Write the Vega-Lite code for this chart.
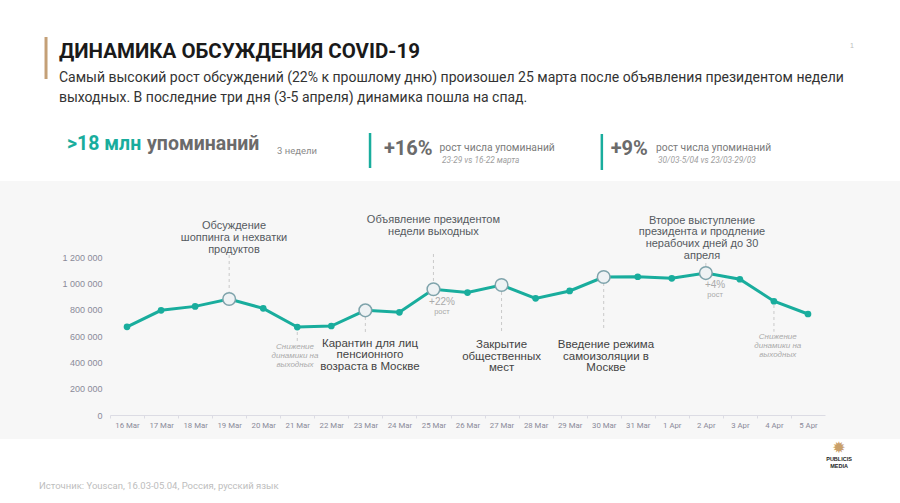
{
  "$schema": "https://vega.github.io/schema/vega-lite/v6.json",
  "width": 900,
  "height": 503,
  "autosize": {"type": "none"},
  "padding": 0,
  "background": "white",
  "config": {"view": {"stroke": null}},
  "data": {
    "values": [
      {"date": "2020-03-16", "mentions": 670000},
      {"date": "2020-03-17", "mentions": 795000},
      {"date": "2020-03-18", "mentions": 825000},
      {"date": "2020-03-19", "mentions": 881000},
      {"date": "2020-03-20", "mentions": 810000},
      {"date": "2020-03-21", "mentions": 668000},
      {"date": "2020-03-22", "mentions": 676000},
      {"date": "2020-03-23", "mentions": 795000},
      {"date": "2020-03-24", "mentions": 780000},
      {"date": "2020-03-25", "mentions": 955000},
      {"date": "2020-03-26", "mentions": 930000},
      {"date": "2020-03-27", "mentions": 987000},
      {"date": "2020-03-28", "mentions": 886000},
      {"date": "2020-03-29", "mentions": 942000},
      {"date": "2020-03-30", "mentions": 1048000},
      {"date": "2020-03-31", "mentions": 1050000},
      {"date": "2020-04-01", "mentions": 1038000},
      {"date": "2020-04-02", "mentions": 1078000},
      {"date": "2020-04-03", "mentions": 1031000},
      {"date": "2020-04-04", "mentions": 864000},
      {"date": "2020-04-05", "mentions": 767000}
    ]
  },
  "layer": [
    {
      "data": {"values": [{}]},
      "mark": {"type": "rect", "color": "#f7f7f7"},
      "encoding": {
        "y": {"datum": 1777216, "type": "quantitative"},
        "y2": {"datum": -182279}
      }
    },
    {
      "mark": {"type": "line", "color": "#19ad9d", "strokeWidth": 3},
      "encoding": {
        "x": {
          "field": "date", "type": "temporal",
          "scale": {"type": "utc", "domain": [{"year": 2020, "month": 3, "date": 15, "hours": 12, "utc": true}, {"year": 2020, "month": 4, "date": 5, "hours": 12, "utc": true}], "range": [110, 825]},
          "axis": {"title": null, "orient": "bottom", "offset": -88, "zindex": 1, "tickCount": {"interval": "day", "step": 1}, "labelExpr": "utcFormat(datum.value, '%-d %b')", "labelFont": "Roboto", "labelFontSize": 7.8, "labelColor": "#8a8a99", "domainColor": "#dcdce4", "tickColor": "#dcdce4", "tickSize": 3, "tickOffset": -17, "labelOffset": 17, "labelPadding": 3, "labelFlush": false, "labelOverlap": false, "grid": false}
        },
        "y": {
          "field": "mentions", "type": "quantitative",
          "scale": {"domain": [0, 1200000], "range": [415, 257], "nice": false, "zero": true},
          "axis": {"title": null, "orient": "left", "offset": -110, "zindex": 1, "values": [0, 200000, 400000, 600000, 800000, 1000000, 1200000], "labelExpr": "replace(replace(format(datum.value, ','), ',', ' '), ',', ' ')", "domain": false, "ticks": false, "grid": false, "labelFont": "Liberation Sans", "labelFontSize": 9, "labelColor": "#8a8a99", "labelPadding": 8}
        }
      }
    },
    {"data": {"values": [{}]}, "mark": {"type": "rule", "strokeDash": [3, 3], "color": "#c9c9c9"}, "encoding": {"x": {"datum": {"year": 2020, "month": 3, "date": 19, "utc": true}, "type": "temporal"}, "y": {"datum": 1215190, "type": "quantitative"}, "y2": {"datum": 937975}}},
    {"data": {"values": [{}]}, "mark": {"type": "rule", "strokeDash": [3, 3], "color": "#c9c9c9"}, "encoding": {"x": {"datum": {"year": 2020, "month": 3, "date": 25, "utc": true}, "type": "temporal"}, "y": {"datum": 1222785, "type": "quantitative"}, "y2": {"datum": 1002532}}},
    {"data": {"values": [{}]}, "mark": {"type": "rule", "strokeDash": [3, 3], "color": "#c9c9c9"}, "encoding": {"x": {"datum": {"year": 2020, "month": 4, "date": 2, "utc": true}, "type": "temporal"}, "y": {"datum": 1154431, "type": "quantitative"}, "y2": {"datum": 1116456}}},
    {"data": {"values": [{}]}, "mark": {"type": "rule", "strokeDash": [3, 3], "color": "#c9c9c9"}, "encoding": {"x": {"datum": {"year": 2020, "month": 3, "date": 23, "utc": true}, "type": "temporal"}, "y": {"datum": 744304, "type": "quantitative"}, "y2": {"datum": 630380}}},
    {"data": {"values": [{}]}, "mark": {"type": "rule", "strokeDash": [3, 3], "color": "#c9c9c9"}, "encoding": {"x": {"datum": {"year": 2020, "month": 3, "date": 21, "utc": true}, "type": "temporal"}, "y": {"datum": 630380, "type": "quantitative"}, "y2": {"datum": 554431}}},
    {"data": {"values": [{}]}, "mark": {"type": "rule", "strokeDash": [3, 3], "color": "#c9c9c9"}, "encoding": {"x": {"datum": {"year": 2020, "month": 3, "date": 27, "utc": true}, "type": "temporal"}, "y": {"datum": 934178, "type": "quantitative"}, "y2": {"datum": 622785}}},
    {"data": {"values": [{}]}, "mark": {"type": "rule", "strokeDash": [3, 3], "color": "#c9c9c9"}, "encoding": {"x": {"datum": {"year": 2020, "month": 3, "date": 30, "utc": true}, "type": "temporal"}, "y": {"datum": 1002532, "type": "quantitative"}, "y2": {"datum": 645570}}},
    {"data": {"values": [{}]}, "mark": {"type": "rule", "strokeDash": [3, 3], "color": "#c9c9c9"}, "encoding": {"x": {"datum": {"year": 2020, "month": 4, "date": 4, "utc": true}, "type": "temporal"}, "y": {"datum": 835443, "type": "quantitative"}, "y2": {"datum": 632658}}},
    {
      "mark": {"type": "circle", "color": "#19ad9d", "size": 45, "opacity": 1},
      "encoding": {
        "x": {"field": "date", "type": "temporal"},
        "y": {"field": "mentions", "type": "quantitative"}
      }
    },
    {
      "transform": [{"filter": "indexof(['2020-03-19','2020-03-23','2020-03-25','2020-03-27','2020-03-30','2020-04-02'], utcFormat(toDate(datum.date), '%Y-%m-%d')) >= 0"}],
      "mark": {"type": "circle", "size": 160, "fill": "#eef2f4", "stroke": "#7ea3ab", "strokeWidth": 1.5, "opacity": 1, "filled": true},
      "encoding": {
        "x": {"field": "date", "type": "temporal"},
        "y": {"field": "mentions", "type": "quantitative"}
      }
    },
    {"data": {"values": [{}]}, "mark": {"type": "rule", "color": "#c4a077", "strokeWidth": 3}, "encoding": {"x": {"datum": {"year": 2020, "month": 3, "date": 13, "hours": 14, "minutes": 54, "utc": true}, "type": "temporal"}, "y": {"datum": 2870887, "type": "quantitative"}, "y2": {"datum": 2551900}}},
    {"data": {"values": [{}]}, "mark": {"type": "text", "align": "left", "baseline": "middle", "font": "Roboto", "fontWeight": "bold", "fontSize": 20.5, "color": "#1a1a1a"}, "encoding": {"x": {"datum": {"year": 2020, "month": 3, "date": 14, "utc": true}, "type": "temporal"}, "y": {"datum": 2753166, "type": "quantitative"}, "text": {"value": "ДИНАМИКА ОБСУЖДЕНИЯ COVID-19"}}},
    {"data": {"values": [{}]}, "mark": {"type": "text", "align": "left", "baseline": "middle", "font": "Roboto", "fontSize": 14, "lineHeight": 20, "color": "#333333"}, "encoding": {"x": {"datum": {"year": 2020, "month": 3, "date": 14, "utc": true}, "type": "temporal"}, "y": {"datum": 2559495, "type": "quantitative"}, "text": {"value": ["Самый высокий рост обсуждений (22% к прошлому дню) произошел 25 марта после объявления президентом недели", "выходных. В последние три дня (3-5 апреля) динамика пошла на спад."]}}},
    {"data": {"values": [{}]}, "mark": {"type": "text", "align": "center", "baseline": "middle", "font": "Liberation Sans", "fontSize": 7, "color": "#bbbbbb"}, "encoding": {"x": {"datum": {"year": 2020, "month": 4, "date": 6, "hours": 7, "utc": true}, "type": "temporal"}, "y": {"datum": 2802533, "type": "quantitative"}, "text": {"value": "1"}}},
    {"data": {"values": [{}]}, "mark": {"type": "text", "align": "left", "baseline": "middle", "font": "Roboto", "fontWeight": "bold", "fontSize": 19.5, "color": "#19ad9d"}, "encoding": {"x": {"datum": {"year": 2020, "month": 3, "date": 14, "hours": 5, "minutes": 42, "utc": true}, "type": "temporal"}, "y": {"datum": 2058229, "type": "quantitative"}, "text": {"value": ">18 млн"}}},
    {"data": {"values": [{}]}, "mark": {"type": "text", "align": "left", "baseline": "middle", "font": "Roboto", "fontWeight": "bold", "fontSize": 19.5, "color": "#6b6b6b"}, "encoding": {"x": {"datum": {"year": 2020, "month": 3, "date": 16, "hours": 14, "minutes": 6, "utc": true}, "type": "temporal"}, "y": {"datum": 2058229, "type": "quantitative"}, "text": {"value": "упоминаний"}}},
    {"data": {"values": [{}]}, "mark": {"type": "text", "align": "left", "baseline": "middle", "font": "Roboto", "fontSize": 9.5, "color": "#8a8a8a"}, "encoding": {"x": {"datum": {"year": 2020, "month": 3, "date": 20, "hours": 9, "minutes": 42, "utc": true}, "type": "temporal"}, "y": {"datum": 2005064, "type": "quantitative"}, "text": {"value": "3 недели"}}},
    {"data": {"values": [{}]}, "mark": {"type": "rule", "color": "#19ad9d", "strokeWidth": 2.5}, "encoding": {"x": {"datum": {"year": 2020, "month": 3, "date": 23, "hours": 3, "minutes": 18, "utc": true}, "type": "temporal"}, "y": {"datum": 2141773, "type": "quantitative"}, "y2": {"datum": 1875950}}},
    {"data": {"values": [{}]}, "mark": {"type": "rule", "color": "#19ad9d", "strokeWidth": 2.5}, "encoding": {"x": {"datum": {"year": 2020, "month": 3, "date": 29, "hours": 22, "minutes": 42, "utc": true}, "type": "temporal"}, "y": {"datum": 2134178, "type": "quantitative"}, "y2": {"datum": 1860760}}},
    {"data": {"values": [{}]}, "mark": {"type": "text", "align": "left", "baseline": "middle", "font": "Roboto", "fontWeight": "bold", "fontSize": 20, "color": "#6b6b6b"}, "encoding": {"x": {"datum": {"year": 2020, "month": 3, "date": 23, "hours": 13, "minutes": 6, "utc": true}, "type": "temporal"}, "y": {"datum": 2020254, "type": "quantitative"}, "text": {"value": "+16%"}}},
    {"data": {"values": [{}]}, "mark": {"type": "text", "align": "left", "baseline": "middle", "font": "Roboto", "fontWeight": "bold", "fontSize": 20, "color": "#6b6b6b"}, "encoding": {"x": {"datum": {"year": 2020, "month": 3, "date": 30, "hours": 4, "minutes": 54, "utc": true}, "type": "temporal"}, "y": {"datum": 2020254, "type": "quantitative"}, "text": {"value": "+9%"}}},
    {"data": {"values": [{}]}, "mark": {"type": "text", "align": "left", "baseline": "middle", "font": "Roboto", "fontSize": 10.3, "color": "#7a7a7a"}, "encoding": {"x": {"datum": {"year": 2020, "month": 3, "date": 25, "hours": 4, "minutes": 18, "utc": true}, "type": "temporal"}, "y": {"datum": 2024052, "type": "quantitative"}, "text": {"value": "рост числа упоминаний"}}},
    {"data": {"values": [{}]}, "mark": {"type": "text", "align": "left", "baseline": "middle", "font": "Roboto", "fontSize": 10.3, "color": "#7a7a7a"}, "encoding": {"x": {"datum": {"year": 2020, "month": 3, "date": 31, "hours": 12, "minutes": 54, "utc": true}, "type": "temporal"}, "y": {"datum": 2024052, "type": "quantitative"}, "text": {"value": "рост числа упоминаний"}}},
    {"data": {"values": [{}]}, "mark": {"type": "text", "align": "left", "baseline": "middle", "font": "Roboto", "fontStyle": "italic", "fontSize": 8.3, "color": "#a0a0a0"}, "encoding": {"x": {"datum": {"year": 2020, "month": 3, "date": 25, "hours": 6, "utc": true}, "type": "temporal"}, "y": {"datum": 1929115, "type": "quantitative"}, "text": {"value": "23-29 vs 16-22 марта"}}},
    {"data": {"values": [{}]}, "mark": {"type": "text", "align": "left", "baseline": "middle", "font": "Roboto", "fontStyle": "italic", "fontSize": 8.3, "color": "#a0a0a0"}, "encoding": {"x": {"datum": {"year": 2020, "month": 3, "date": 31, "hours": 14, "minutes": 18, "utc": true}, "type": "temporal"}, "y": {"datum": 1929115, "type": "quantitative"}, "text": {"value": "30/03-5/04 vs 23/03-29/03"}}},
    {"data": {"values": [{}]}, "mark": {"type": "text", "align": "center", "baseline": "middle", "font": "Liberation Sans", "fontSize": 11, "lineHeight": 12, "color": "#555a60"}, "encoding": {"x": {"datum": {"year": 2020, "month": 3, "date": 19, "hours": 3, "minutes": 24, "utc": true}, "type": "temporal"}, "y": {"datum": 1435444, "type": "quantitative"}, "text": {"value": ["Обсуждение", "шоппинга и нехватки", "продуктов"]}}},
    {"data": {"values": [{}]}, "mark": {"type": "text", "align": "center", "baseline": "middle", "font": "Liberation Sans", "fontSize": 11, "lineHeight": 12, "color": "#555a60"}, "encoding": {"x": {"datum": {"year": 2020, "month": 3, "date": 25, "utc": true}, "type": "temporal"}, "y": {"datum": 1481013, "type": "quantitative"}, "text": {"value": ["Объявление президентом", "недели выходных"]}}},
    {"data": {"values": [{}]}, "mark": {"type": "text", "align": "center", "baseline": "middle", "font": "Liberation Sans", "fontSize": 11, "lineHeight": 11.8, "color": "#555a60"}, "encoding": {"x": {"datum": {"year": 2020, "month": 4, "date": 1, "hours": 21, "minutes": 18, "utc": true}, "type": "temporal"}, "y": {"datum": 1475697, "type": "quantitative"}, "text": {"value": ["Второе выступление", "президента и продление", "нерабочих дней до 30", "апреля"]}}},
    {"data": {"values": [{}]}, "mark": {"type": "text", "align": "center", "baseline": "middle", "font": "Liberation Sans", "fontSize": 11.5, "lineHeight": 11.5, "color": "#444444"}, "encoding": {"x": {"datum": {"year": 2020, "month": 3, "date": 23, "hours": 3, "minutes": 16, "utc": true}, "type": "temporal"}, "y": {"datum": 539241, "type": "quantitative"}, "text": {"value": ["Карантин для лиц", "пенсионного", "возраста в Москве"]}}},
    {"data": {"values": [{}]}, "mark": {"type": "text", "align": "center", "baseline": "middle", "font": "Liberation Sans", "fontSize": 11.5, "lineHeight": 11.7, "color": "#444444"}, "encoding": {"x": {"datum": {"year": 2020, "month": 3, "date": 27, "utc": true}, "type": "temporal"}, "y": {"datum": 531646, "type": "quantitative"}, "text": {"value": ["Закрытие", "общественных", "мест"]}}},
    {"data": {"values": [{}]}, "mark": {"type": "text", "align": "center", "baseline": "middle", "font": "Liberation Sans", "fontSize": 11.5, "lineHeight": 11.7, "color": "#444444"}, "encoding": {"x": {"datum": {"year": 2020, "month": 3, "date": 30, "hours": 1, "minutes": 36, "utc": true}, "type": "temporal"}, "y": {"datum": 531646, "type": "quantitative"}, "text": {"value": ["Введение режима", "самоизоляции в", "Москве"]}}},
    {"data": {"values": [{}]}, "mark": {"type": "text", "align": "center", "baseline": "middle", "font": "Liberation Sans", "fontStyle": "italic", "fontSize": 8, "lineHeight": 9, "color": "#aaaaaa"}, "encoding": {"x": {"datum": {"year": 2020, "month": 3, "date": 20, "hours": 22, "minutes": 24, "utc": true}, "type": "temporal"}, "y": {"datum": 516456, "type": "quantitative"}, "text": {"value": ["Снижение", "динамики на", "выходных"]}}},
    {"data": {"values": [{}]}, "mark": {"type": "text", "align": "center", "baseline": "middle", "font": "Liberation Sans", "fontStyle": "italic", "fontSize": 8, "lineHeight": 9, "color": "#aaaaaa"}, "encoding": {"x": {"datum": {"year": 2020, "month": 4, "date": 4, "hours": 2, "minutes": 42, "utc": true}, "type": "temporal"}, "y": {"datum": 594684, "type": "quantitative"}, "text": {"value": ["Снижение", "динамики на", "выходных"]}}},
    {"data": {"values": [{}]}, "mark": {"type": "text", "align": "center", "baseline": "middle", "font": "Liberation Sans", "fontSize": 10, "color": "#aaaaaa"}, "encoding": {"x": {"datum": {"year": 2020, "month": 3, "date": 25, "hours": 6, "utc": true}, "type": "temporal"}, "y": {"datum": 860507, "type": "quantitative"}, "text": {"value": "+22%"}}},
    {"data": {"values": [{}]}, "mark": {"type": "text", "align": "center", "baseline": "middle", "font": "Liberation Sans", "fontSize": 7.5, "color": "#aaaaaa"}, "encoding": {"x": {"datum": {"year": 2020, "month": 3, "date": 25, "hours": 6, "utc": true}, "type": "temporal"}, "y": {"datum": 780000, "type": "quantitative"}, "text": {"value": "рост"}}},
    {"data": {"values": [{}]}, "mark": {"type": "text", "align": "center", "baseline": "middle", "font": "Liberation Sans", "fontSize": 10, "color": "#aaaaaa"}, "encoding": {"x": {"datum": {"year": 2020, "month": 4, "date": 2, "hours": 6, "minutes": 30, "utc": true}, "type": "temporal"}, "y": {"datum": 987342, "type": "quantitative"}, "text": {"value": "+4%"}}},
    {"data": {"values": [{}]}, "mark": {"type": "text", "align": "center", "baseline": "middle", "font": "Liberation Sans", "fontSize": 7.5, "color": "#aaaaaa"}, "encoding": {"x": {"datum": {"year": 2020, "month": 4, "date": 2, "hours": 6, "minutes": 30, "utc": true}, "type": "temporal"}, "y": {"datum": 909114, "type": "quantitative"}, "text": {"value": "рост"}}},
    {"data": {"values": [{}]}, "mark": {"type": "text", "align": "left", "baseline": "middle", "font": "Roboto", "fontSize": 9.5, "color": "#bdbdbd"}, "encoding": {"x": {"datum": {"year": 2020, "month": 3, "date": 13, "hours": 10, "utc": true}, "type": "temporal"}, "y": {"datum": -539241, "type": "quantitative"}, "text": {"value": "Источник: Youscan, 16.03-05.04, Россия, русский язык"}}},
    {"data": {"values": [{}]}, "mark": {"type": "text", "align": "center", "baseline": "middle", "font": "DejaVu Sans", "fontSize": 16, "color": "#c9a06a"}, "encoding": {"x": {"datum": {"year": 2020, "month": 4, "date": 5, "hours": 21, "minutes": 54, "utc": true}, "type": "temporal"}, "y": {"datum": -250000, "type": "quantitative"}, "text": {"value": "✹"}}},
    {"data": {"values": [{}]}, "mark": {"type": "text", "align": "center", "baseline": "middle", "font": "Liberation Sans", "fontWeight": "bold", "fontSize": 5.5, "lineHeight": 7, "color": "#222222"}, "encoding": {"x": {"datum": {"year": 2020, "month": 4, "date": 5, "hours": 21, "minutes": 54, "utc": true}, "type": "temporal"}, "y": {"datum": -334177, "type": "quantitative"}, "text": {"value": ["PUBLICIS", "MEDIA"]}}}
  ]
}
